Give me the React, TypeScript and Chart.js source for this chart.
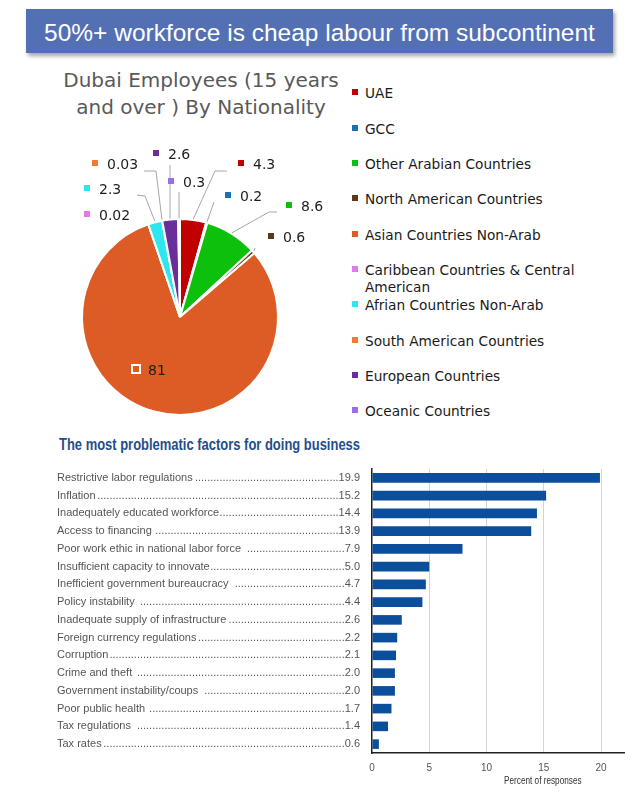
import React, { useEffect, useRef } from "react";
import { Chart, registerables } from "chart.js";

Chart.register(...registerables);

// ---------- DATA ----------
const nationalities = [
  "UAE",
  "GCC",
  "Other Arabian Countries",
  "North American Countries",
  "Asian Countries Non-Arab",
  "Caribbean Countries & Central American",
  "Afrian Countries Non-Arab",
  "South American Countries",
  "European Countries",
  "Oceanic Countries",
];
const shares = [4.3, 0.2, 8.6, 0.6, 81, 0.02, 2.3, 0.03, 2.6, 0.3];

const factors = [
  "Restrictive labor regulations",
  "Inflation",
  "Inadequately educated workforce",
  "Access to financing ",
  "Poor work ethic in national labor force ",
  "Insufficient capacity to innovate",
  "Inefficient government bureaucracy ",
  "Policy instability ",
  "Inadequate supply of infrastructure",
  "Foreign currency regulations",
  "Corruption",
  "Crime and theft ",
  "Government instability/coups ",
  "Poor public health ",
  "Tax regulations ",
  "Tax rates",
];
const factorValues = [19.9, 15.2, 14.4, 13.9, 7.9, 5.0, 4.7, 4.4, 2.6, 2.2, 2.1, 2.0, 2.0, 1.7, 1.4, 0.6];

// ---------- STYLE / LAYOUT ----------
const sliceColors = [
  "#C00000",
  "#1F6FB4",
  "#0CC00C",
  "#5A3A1A",
  "#DD5C25",
  "#E27AEA",
  "#2EE6EE",
  "#F07A32",
  "#6A2E9A",
  "#9A6CF0",
];

// label marker offsets from pie centre (px at radius 98) and leader-line start points (relative to marker)
const pieLabelLayout: { dx: number; dy: number; leader: number[][] | null; boxed?: boolean }[] = [
  { dx: 61, dy: -154, leader: [[-14, 8], [-26, 8]] },
  { dx: 48, dy: -122, leader: [[-14, 7]] },
  { dx: 109, dy: -112, leader: [[-12, 7], [-20, 7]] },
  { dx: 91, dy: -81, leader: [[-16, 12]] },
  { dx: -44, dy: 52, leader: null, boxed: true },
  { dx: -93, dy: -103, leader: null },
  { dx: -93, dy: -129, leader: [[50, 7], [58, 8]] },
  { dx: -85, dy: -154, leader: [[49, 8], [61, 8]] },
  { dx: -24, dy: -164, leader: [[14, 12]] },
  { dx: -9, dy: -136, leader: [[8, 11]] },
];

const pieLabelsPlugin = {
  id: "pieLabels",
  afterDatasetsDraw(chart: any) {
    const ctx = chart.ctx;
    const meta = chart.getDatasetMeta(0);
    ctx.save();
    meta.data.forEach((arc: any, i: number) => {
      const p = arc.getProps(["x", "y", "startAngle", "endAngle", "outerRadius"], true);
      const s = p.outerRadius / 98;
      const L = pieLabelLayout[i];
      const mx = p.x + L.dx * s;
      const my = p.y + L.dy * s;
      if (L.leader) {
        const mid = (p.startAngle + p.endAngle) / 2;
        const ex = p.x + Math.cos(mid) * (p.outerRadius + 1);
        const ey = p.y + Math.sin(mid) * (p.outerRadius + 1);
        ctx.beginPath();
        ctx.strokeStyle = "#A6A6A6";
        ctx.lineWidth = 1;
        L.leader.forEach((pt, k) => {
          if (k === 0) ctx.moveTo(mx + pt[0], my + pt[1]);
          else ctx.lineTo(mx + pt[0], my + pt[1]);
        });
        ctx.lineTo(ex, ey);
        ctx.stroke();
      }
      if (L.boxed) {
        ctx.fillStyle = "#FFFFFF";
        ctx.fillRect(mx - 5, my - 5, 10, 10);
        ctx.fillStyle = sliceColors[i];
        ctx.fillRect(mx - 3, my - 3, 6, 6);
      } else {
        ctx.fillStyle = sliceColors[i];
        ctx.fillRect(mx - 3, my - 3, 6, 6);
      }
      ctx.fillStyle = "#1E1E1E";
      ctx.font = '14px "DejaVu Sans"';
      ctx.textAlign = "left";
      ctx.textBaseline = "middle";
      ctx.fillText(String(shares[i]), mx + 12, my + 2);
    });
    ctx.restore();
  },
};

const factorLabelsPlugin = {
  id: "factorLabels",
  afterDraw(chart: any) {
    const ctx = chart.ctx;
    const yScale = chart.scales.y;
    const xScale = chart.scales.x;
    ctx.save();
    ctx.font = '11px "Liberation Sans", Arial';
    ctx.fillStyle = "#555555";
    ctx.textBaseline = "middle";
    const leftX = 17;
    const rightX = 320;
    const dotW = ctx.measureText(".").width;
    factors.forEach((f, i) => {
      const yy = yScale.getPixelForValue(i);
      const val = factorValues[i].toFixed(1);
      ctx.textAlign = "left";
      ctx.fillText(f, leftX, yy);
      const lw = ctx.measureText(f).width;
      const vw = ctx.measureText(val).width;
      const n = Math.max(0, Math.floor((rightX - vw - leftX - lw) / dotW));
      ctx.textAlign = "right";
      ctx.fillText(".".repeat(n) + val, rightX, yy);
    });
    // axis title (condensed)
    ctx.font = '10px "Liberation Sans", Arial';
    ctx.fillStyle = "#333333";
    ctx.textAlign = "center";
    ctx.translate(xScale.getPixelForValue(15) - 1, chart.chartArea.bottom + 28);
    ctx.scale(0.82, 1);
    ctx.fillText("Percent of responses", 0, 0);
    ctx.restore();
  },
};

export default function App() {
  const pieRef = useRef<HTMLCanvasElement>(null);
  const barRef = useRef<HTMLCanvasElement>(null);
  const titleRef = useRef<HTMLSpanElement>(null);

  useEffect(() => {
    const t = titleRef.current;
    if (t) {
      const w = t.getBoundingClientRect().width;
      if (w > 0) t.style.transform = `scaleX(${301 / w})`;
    }
  }, []);

  useEffect(() => {
    if (!pieRef.current || !barRef.current) return;
    const pie = new Chart(pieRef.current, {
      type: "pie",
      data: {
        labels: nationalities,
        datasets: [
          {
            data: shares,
            backgroundColor: sliceColors,
            borderColor: "#FFFFFF",
            borderWidth: 2,
          },
        ],
      },
      options: {
        responsive: false,
        animation: false,
        layout: { padding: { left: 41, right: 71, top: 88, bottom: 14 } },
        plugins: { legend: { display: false }, tooltip: { enabled: false } },
      },
      plugins: [pieLabelsPlugin],
    } as any);

    const bar = new Chart(barRef.current, {
      type: "bar",
      data: {
        labels: factors,
        datasets: [
          {
            data: factorValues,
            backgroundColor: "#0A4E9C",
            barPercentage: 0.54,
            categoryPercentage: 1,
          },
        ],
      },
      options: {
        indexAxis: "y",
        responsive: false,
        animation: false,
        layout: { padding: { left: 332, right: 16, top: 14, bottom: 11 } },
        scales: {
          x: {
            min: 0,
            max: 22,
            ticks: {
              stepSize: 5,
              includeBounds: false,
              padding: 9,
              color: "#555555",
              font: { family: '"Liberation Sans Narrow", "Liberation Sans", Arial', size: 10 },
            },
            grid: {
              drawTicks: false,
              color: (c: any) => (c.tick && c.tick.value === 0 ? "rgba(0,0,0,0)" : "#D4D4D4"),
              lineWidth: 1,
            },
            border: { display: true, color: "#222222", width: 1.5 },
          },
          y: {
            ticks: { display: false },
            grid: { display: false, drawTicks: false },
            border: { display: true, color: "#222222", width: 1.5 },
          },
        },
        plugins: { legend: { display: false }, tooltip: { enabled: false } },
      },
      plugins: [factorLabelsPlugin],
    } as any);

    return () => {
      pie.destroy();
      bar.destroy();
    };
  }, []);

  const rowH = 35.3;

  return (
    <div style={{ position: "fixed", left: 0, top: 0, width: 640, height: 794, background: "#FFFFFF", overflow: "hidden" }}>
      {/* banner */}
      <div
        style={{
          position: "absolute",
          left: 26,
          top: 9,
          width: 587,
          height: 44,
          background: "#5470B5",
          boxShadow: "2px 3px 4px rgba(0,0,0,0.35)",
          color: "#FFFFFF",
          fontFamily: '"Liberation Sans", Arial, sans-serif',
          fontSize: 24.5,
          lineHeight: "47px",
          textAlign: "center",
          whiteSpace: "nowrap",
        }}
      >
        50%+ workforce is cheap labour from subcontinent
      </div>

      {/* pie title */}
      <div
        style={{
          position: "absolute",
          left: 40,
          top: 67,
          width: 322,
          textAlign: "center",
          fontFamily: '"DejaVu Sans", sans-serif',
          fontSize: 20,
          lineHeight: "27px",
          color: "#595959",
        }}
      >
        Dubai Employees (15 years
        <br />
        and over ) By Nationality
      </div>

      <canvas ref={pieRef} width={310} height={300} style={{ position: "absolute", left: 40, top: 130, width: 310, height: 300 }} />

      {/* legend */}
      <div style={{ position: "absolute", left: 350, top: 94 - rowH / 2, width: 280 }}>
        {nationalities.map((n, i) => (
          <div key={n} style={{ position: "relative", height: rowH }}>
            <div
              style={{
                position: "absolute",
                left: 2,
                top: rowH / 2 - 4.5,
                width: 6,
                height: 6,
                background: sliceColors[i],
              }}
            />
            <div
              style={{
                position: "absolute",
                left: 15,
                top: rowH / 2 - 8.5,
                width: 232,
                fontFamily: '"DejaVu Sans", sans-serif',
                fontSize: 13.7,
                lineHeight: "17px",
                color: "#1A1A1A",
              }}
            >
              {n}
            </div>
          </div>
        ))}
      </div>

      {/* bar title */}
      <div style={{ position: "absolute", left: 59, top: 435, whiteSpace: "nowrap" }}>
        <span
          ref={titleRef}
          style={{
            display: "inline-block",
            transformOrigin: "left center",
            fontFamily: '"Liberation Sans Narrow", "Liberation Sans", Arial',
            fontWeight: "bold",
            fontSize: 16,
            lineHeight: "19px",
            color: "#1F4E8A",
          }}
        >
          The most problematic factors for doing business
        </span>
      </div>

      <canvas ref={barRef} width={600} height={339} style={{ position: "absolute", left: 40, top: 455, width: 600, height: 339 }} />
    </div>
  );
}
